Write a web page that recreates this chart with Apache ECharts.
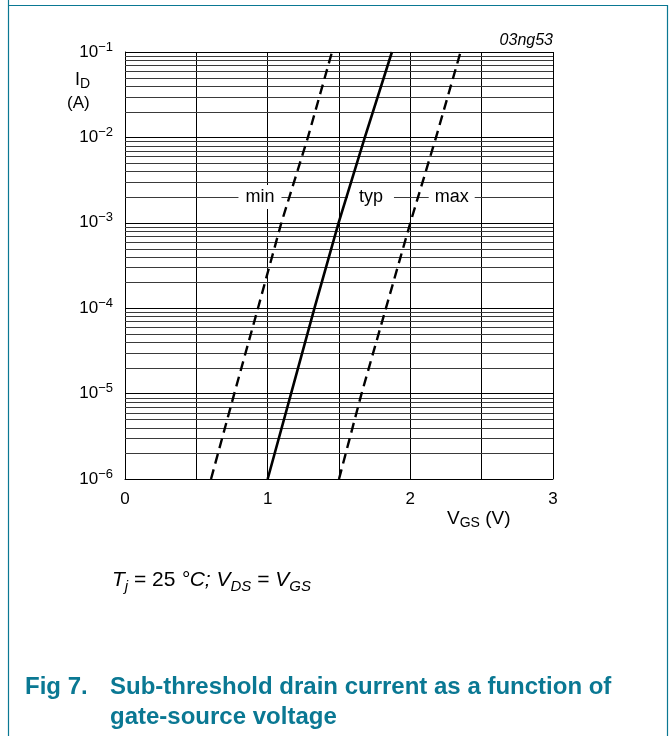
<!DOCTYPE html>
<html>
<head>
<meta charset="utf-8">
<script src="https://cdn.jsdelivr.net/npm/echarts@6/dist/echarts.min.js"></script>
<style>
html,body{margin:0;padding:0;background:#fff;}
#c{width:672px;height:736px;}
</style>
</head>
<body>
<div id="c"></div>
<script>
// ---- data ----
const currentDecades = [1e-6, 1e-5, 1e-4, 1e-3, 1e-2, 1e-1];   // I_D (A)
const vgsMin = [0.603, 0.766, 0.932, 1.096, 1.282, 1.451];      // V_GS (V), min curve
const vgsTyp = [1.000, 1.164, 1.328, 1.497, 1.681, 1.871];      // V_GS (V), typ curve
const vgsMax = [1.500, 1.658, 1.829, 2.000, 2.180, 2.352];      // V_GS (V), max curve
const xTickLabels = [0, 1, 2, 3];
const minorMantissas = [2, 3, 4, 5, 6, 7, 8, 9];
const curveLabels = ['min', 'typ', 'max'];
const curveLabelVgs = [0.946, 1.724, 2.29];
const curveLabelId = 2e-3;

const teal = '#0a7893';
const font = 'Liberation Sans, Arial, Helvetica, sans-serif';

function pairs(xs) { return xs.map((x, i) => [x, currentDecades[i]]); }

const minorValues = [];
for (let d = 0; d < currentDecades.length - 1; d++) {
  minorMantissas.forEach(m => minorValues.push(m * currentDecades[d]));
}

function labelPoint(i) {
  return {coord: [curveLabelVgs[i], curveLabelId], value: curveLabels[i]};
}

function curveLabel(pad) {
  return {
    symbol: 'rect', symbolSize: 1, itemStyle: {color: 'rgba(0,0,0,0)'},
    label: {show: true, position: 'inside', formatter: '{c}', color: '#000', fontFamily: font, fontSize: 18,
      backgroundColor: '#fff', padding: pad}
  };
}

const chart = echarts.init(document.getElementById('c'), null, {renderer: 'canvas'});

const option = {
  animation: false,
  backgroundColor: '#fff',
  grid: {left: 125, right: 119, top: 52, bottom: 257, containLabel: false},
  xAxis: {
    type: 'value', min: 0, max: 3, interval: 0.5,
    axisLine: {show: true, lineStyle: {color: '#000', width: 1}},
    axisTick: {show: false},
    splitLine: {show: true, lineStyle: {color: '#000', width: 1}},
    axisLabel: {
      color: '#000', fontFamily: font, fontSize: 17, margin: 12,
      formatter: v => (xTickLabels.indexOf(v) >= 0 ? String(v) : '')
    }
  },
  yAxis: {
    type: 'log', logBase: 10, min: 1e-6, max: 1e-1,
    axisLine: {show: true, lineStyle: {color: '#000', width: 1}},
    axisTick: {show: false},
    splitLine: {show: true, lineStyle: {color: '#000', width: 1}},
    axisLabel: {
      color: '#000', fontFamily: font, margin: 12,
      formatter: v => {
        const e = Math.round(Math.log10(v));
        return '{b|10}{s|\u2212' + Math.abs(e) + '}';
      },
      rich: {
        b: {fontSize: 17, fontFamily: font, color: '#000'},
        s: {fontSize: 13, fontFamily: font, color: '#000', padding: [0, 0, 10, 0]}
      }
    }
  },
  series: [
    {
      name: 'grid-minor', type: 'custom', silent: true, z: 1,
      data: minorValues.map(v => [0, v]),
      encode: {x: 0, y: 1},
      renderItem: (params, api) => {
        const v = api.value(1);
        const p0 = api.coord([0, v]);
        const p1 = api.coord([3, v]);
        const y = Math.round(p0[1]) + 0.5;
        return {type: 'line', shape: {x1: p0[0], y1: y, x2: p1[0], y2: y},
          style: {stroke: '#3a3a3a', lineWidth: 1}};
      }
    },
    {
      name: 'min', type: 'line', data: pairs(vgsMin), symbol: 'none', z: 5,
      lineStyle: {color: '#000', width: 2.4, type: [10, 6]},
      markPoint: Object.assign(curveLabel([3, 7, 3, 7]), {data: [labelPoint(0)]})
    },
    {
      name: 'typ', type: 'line', data: pairs(vgsTyp), symbol: 'none', z: 5,
      lineStyle: {color: '#000', width: 2.6, type: 'solid'},
      markPoint: Object.assign(curveLabel([3, 11, 3, 11]), {data: [labelPoint(1)]})
    },
    {
      name: 'max', type: 'line', data: pairs(vgsMax), symbol: 'none', z: 5,
      lineStyle: {color: '#000', width: 2.4, type: [10, 6]},
      markPoint: Object.assign(curveLabel([3, 6, 3, 6]), {data: [labelPoint(2)]})
    }
  ],
  graphic: [
    // frame
    {type: 'line', shape: {x1: 8.5, y1: 0, x2: 8.5, y2: 736}, style: {stroke: teal, lineWidth: 1.2}},
    {type: 'line', shape: {x1: 8, y1: 5.5, x2: 668, y2: 5.5}, style: {stroke: teal, lineWidth: 1.2}},
    {type: 'line', shape: {x1: 667.5, y1: 5, x2: 667.5, y2: 736}, style: {stroke: teal, lineWidth: 1.2}},
    // id number
    {type: 'text', right: 119, top: 33,
      style: {text: '03ng53', font: 'italic 16px ' + font, fill: '#000', textAlign: 'right'}},
    // y axis title
    {type: 'text', left: 75, top: 71,
      style: {text: '{a|I}{b|D}', rich: {
        a: {fontSize: 18, fontFamily: font, fill: '#000'},
        b: {fontSize: 14, fontFamily: font, fill: '#000', padding: [9, 0, 0, 0]}
      }}},
    {type: 'text', left: 67, top: 95,
      style: {text: '(A)', font: '17px ' + font, fill: '#000'}},
    // x axis title
    {type: 'text', left: 447, top: 509,
      style: {text: '{a|V}{b|GS}{a| (V)}', rich: {
        a: {fontSize: 19, fontFamily: font, fill: '#000'},
        b: {fontSize: 14, fontFamily: font, fill: '#000', padding: [10, 0, 0, 0]}
      }}},
    // conditions
    {type: 'text', left: 112, top: 570,
      style: {text: '{i|T}{s|j}{n| = 25 }{i|\u00b0C; V}{s|DS}{n| = }{i|V}{s|GS}', rich: {
        i: {fontSize: 21, fontFamily: font, fontStyle: 'italic', fill: '#000'},
        n: {fontSize: 21, fontFamily: font, fill: '#000'},
        s: {fontSize: 15, fontFamily: font, fontStyle: 'italic', fill: '#000', padding: [12, 0, 0, 0]}
      }}},
    // caption
    {type: 'text', left: 25, top: 675,
      style: {text: 'Fig 7.', font: 'bold 24px ' + font, fill: teal}},
    {type: 'text', left: 110, top: 675,
      style: {text: 'Sub-threshold drain current as a function of', font: 'bold 24px ' + font, fill: teal}},
    {type: 'text', left: 110, top: 705,
      style: {text: 'gate-source voltage', font: 'bold 24px ' + font, fill: teal}}
  ]
};
chart.setOption(option);
</script>
</body>
</html>
